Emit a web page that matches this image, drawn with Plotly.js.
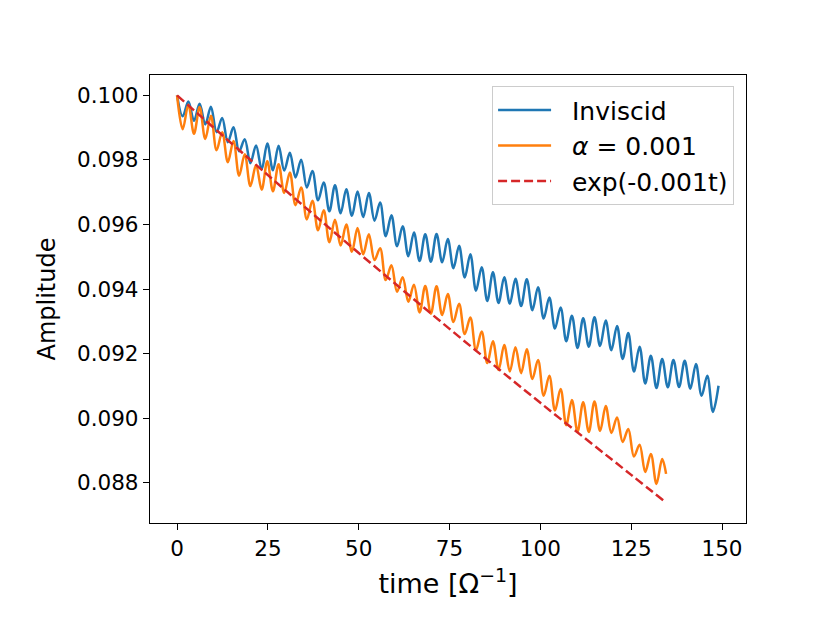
<!DOCTYPE html>
<html>
<head>
<meta charset="utf-8">
<script src="https://cdn.plot.ly/plotly-3.0.1.min.js"></script>
<style>
  body { margin: 0; background: #fff; }
  #plot { width: 830px; height: 623px; }
</style>
</head>
<body>
<div id="plot"></div>
<script>
//Times of the peaks and troughs (half period ~1.55)
var tExt = [0, 1.55, 3.11, 4.66, 6.21, 7.76, 9.32, 10.87, 12.42, 13.97,
    15.53, 17.08, 18.63, 20.18, 21.74, 23.29, 24.84, 26.39, 27.95, 29.50,
    31.05, 32.60, 34.16, 35.71, 37.26, 38.81, 40.37, 41.92, 43.47, 45.02,
    46.58, 48.13, 49.68, 51.23, 52.79, 54.34, 55.89, 57.44, 59.00, 60.55,
    62.10, 63.65, 65.21, 66.76, 68.31, 69.86, 71.42, 72.97, 74.52, 76.07,
    77.63, 79.18, 80.73, 82.28, 83.84, 85.39, 86.94, 88.49, 90.05, 91.60,
    93.15, 94.70, 96.26, 97.81, 99.36, 100.91, 102.47, 104.02, 105.57, 107.12,
    108.68, 110.23, 111.78, 113.33, 114.89, 116.44, 117.99, 119.54, 121.10, 122.65,
    124.20, 125.75, 127.31, 128.86, 130.41, 131.96, 133.52, 135.07, 136.62, 138.17,
    139.73, 141.28, 142.83, 144.38, 145.94, 147.49, 149.04];

//Inviscid amplitude at each peak / trough
var inviscid = [0.10000, 0.09935, 0.09981, 0.09921, 0.09974, 0.09910, 0.09965, 0.09886, 0.09930, 0.09855,
    0.09901, 0.09827, 0.09864, 0.09790, 0.09845, 0.09771, 0.09851, 0.09768, 0.09844, 0.09767,
    0.09822, 0.09746, 0.09801, 0.09715, 0.09766, 0.09675, 0.09730, 0.09641, 0.09722, 0.09635,
    0.09709, 0.09627, 0.09702, 0.09623, 0.09698, 0.09612, 0.09668, 0.09564, 0.09629, 0.09533,
    0.09595, 0.09502, 0.09575, 0.09487, 0.09570, 0.09485, 0.09571, 0.09483, 0.09555, 0.09465,
    0.09534, 0.09436, 0.09508, 0.09395, 0.09468, 0.09363, 0.09452, 0.09357, 0.09437, 0.09355,
    0.09432, 0.09348, 0.09431, 0.09335, 0.09406, 0.09309, 0.09374, 0.09278, 0.09343, 0.09239,
    0.09318, 0.09218, 0.09310, 0.09222, 0.09313, 0.09224, 0.09303, 0.09211, 0.09286, 0.09184,
    0.09264, 0.09145, 0.09222, 0.09108, 0.09194, 0.09094, 0.09184, 0.09096, 0.09181, 0.09097,
    0.09178, 0.09092, 0.09168, 0.09070, 0.09132, 0.09020, 0.09101];

//Viscous (alpha = 0.001) amplitude at each peak / trough, plus where the run stops
var viscous = [0.10000, 0.09895, 0.09971, 0.09881, 0.09964, 0.09865, 0.09937, 0.09830, 0.09886, 0.09793,
    0.09859, 0.09751, 0.09818, 0.09719, 0.09784, 0.09708, 0.09796, 0.09703, 0.09787, 0.09698,
    0.09761, 0.09660, 0.09715, 0.09616, 0.09674, 0.09582, 0.09644, 0.09545, 0.09615, 0.09535,
    0.09600, 0.09516, 0.09589, 0.09508, 0.09570, 0.09490, 0.09527, 0.09428, 0.09474, 0.09392,
    0.09437, 0.09361, 0.09414, 0.09328, 0.09410, 0.09324, 0.09409, 0.09320, 0.09385, 0.09298,
    0.09355, 0.09261, 0.09312, 0.09211, 0.09269, 0.09171, 0.09239, 0.09150, 0.09227, 0.09145,
    0.09220, 0.09140, 0.09214, 0.09122, 0.09181, 0.09070, 0.09132, 0.09024, 0.09091, 0.08979,
    0.09057, 0.08959, 0.09050, 0.08958, 0.09052, 0.08961, 0.09038, 0.08955, 0.09003, 0.08927,
    0.08967, 0.08882, 0.08918, 0.08834, 0.08890, 0.08797, 0.08874];
var viscousEndT = 134.6;
var viscousEndV = 0.08828;

//Reference decay curve, read at a few times
var expT = [0, 25, 50, 75, 100, 125, 134.6];
var expV = [0.10000, 0.09753, 0.09512, 0.09277, 0.09048, 0.08825, 0.08739];

//Axis ticks
var xTicks = [0, 25, 50, 75, 100, 125, 150];
var yTicks = [0.088, 0.090, 0.092, 0.094, 0.096, 0.098, 0.100];

//Non-breaking spaces give the gap between legend line and label
var gap = '\u00a0\u00a0';

function initializePlot() {
    var tViscous = tExt.slice(0, viscous.length).concat([viscousEndT]);
    var vViscous = viscous.concat([viscousEndV]);

    var traces = [
        {
            x: tExt, y: inviscid, type: 'scatter', mode: 'lines', name: gap + 'Inviscid',
            line: {color: '#1f77b4', width: 2.5, shape: 'spline', smoothing: 1}
        },
        {
            x: tViscous, y: vViscous, type: 'scatter', mode: 'lines', name: gap + '<i>α</i> = 0.001',
            line: {color: '#ff7f0e', width: 2.5, shape: 'spline', smoothing: 1}
        },
        {
            x: expT, y: expV, type: 'scatter', mode: 'lines', name: gap + 'exp(-0.001t)',
            line: {color: '#d62728', width: 2.5, dash: '9px,4px', shape: 'spline'}
        }
    ];

    var axisStyle = {
        showgrid: false,
        zeroline: false,
        showline: true,
        mirror: true,
        linecolor: '#000',
        linewidth: 1.3,
        ticks: 'outside',
        ticklen: 6,
        tickwidth: 1.3,
        tickcolor: '#000',
        tickfont: {size: 21.5, color: '#000'}
    };

    var layout = {
        width: 830,
        height: 623,
        font: {family: 'DejaVu Sans', color: '#000'},
        paper_bgcolor: '#fff',
        plot_bgcolor: '#fff',
        margin: {l: 150, r: 84, t: 75, b: 100},
        showlegend: true,
        legend: {
            x: 0.98, xanchor: 'right',
            y: 0.975, yanchor: 'top',
            bgcolor: 'rgba(255,255,255,0.8)',
            bordercolor: '#cccccc',
            borderwidth: 1,
            itemwidth: 53,
            font: {size: 25, color: '#000'}
        },
        xaxis: Object.assign({}, axisStyle, {
            range: [-7.45, 156.6],
            tickvals: xTicks,
            ticktext: xTicks.map(String),
            title: {text: 'time [Ω<sup>−1</sup>]', font: {size: 27}, standoff: 14}
        }),
        yaxis: Object.assign({}, axisStyle, {
            range: [0.08676, 0.10063],
            tickvals: yTicks,
            ticktext: yTicks.map(function(v) { return v.toFixed(3); }),
            title: {text: 'Amplitude', font: {size: 24}, standoff: 14}
        })
    };

    Plotly.newPlot('plot', traces, layout, {displayModeBar: false});
}

document.addEventListener("DOMContentLoaded", function() {
    initializePlot();
});
</script>
</body>
</html>
